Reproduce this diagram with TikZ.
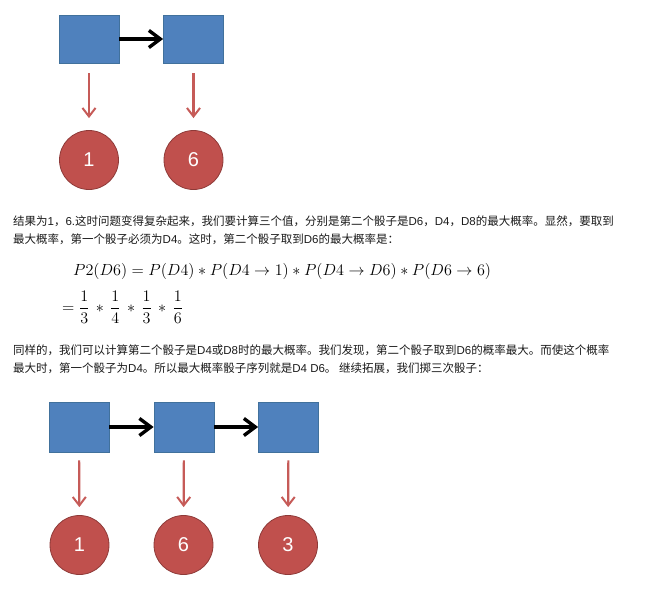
\documentclass[tikz,border=0pt]{standalone}
\usepackage[no-math]{fontspec}
\setmainfont{Liberation Sans}
\newfontfamily\cjk{Noto Sans CJK SC}
\usepackage{amsmath}
\usepackage{graphicx}
\usetikzlibrary{arrows.meta,positioning}
\definecolor{hmmBlue}{HTML}{4F81BD}
\definecolor{hmmBlueLine}{HTML}{41719C}
\definecolor{hmmRed}{HTML}{C0504D}
\definecolor{hmmRedLine}{HTML}{8E3A38}
\definecolor{hmmEmit}{HTML}{C65B58}
\definecolor{hmmInk}{HTML}{1A1A1A}
\newcommand\zh[1]{{\cjk #1}}
\newcommand\hmmeq[1]{\scalebox{1.12}{#1}}
\tikzset{
  hmm box/.style={draw=hmmBlueLine, fill=hmmBlue, line width=0.8pt,
    minimum width=60pt, minimum height=48pt, inner sep=0pt},
  hmm num/.style={circle, draw=hmmRedLine, fill=hmmRed, line width=0.8pt,
    minimum size=59pt, inner sep=0pt, text=white,
    font=\fontsize{20}{20}\selectfont},
  hmm trans/.style={-{Straight Barb[length=4mm,width=6mm,line width=3.4pt]},
    draw=black, line width=4pt},
  hmm emit/.style={-{Straight Barb[length=3mm,width=4.6mm,line width=2pt]},
    draw=hmmEmit, line width=2.2pt},
  hmm text/.style={anchor=base west, inner sep=0pt, text=hmmInk,
    font=\fontsize{11.5}{14}\selectfont},
  hmm math/.style={anchor=base west, inner sep=0pt, text=black,
    font=\fontsize{14.4}{17}\selectfont}
}
\begin{document}
\begin{tikzpicture}[x=1pt,y=-1pt]
\path[use as bounding box] (0,0) rectangle (646,592);
% two dice
\node[hmm box] (tbox1) at (89,39) {};
\node[hmm box] (tbox2) at (193.5,39) {};
\node[hmm num] (tnum1) at (89,160) {1};
\node[hmm num] (tnum2) at (193.5,160) {6};
\draw[hmm trans] (tbox1) -- (tbox2);
\draw[hmm emit, shorten <=10pt, shorten >=12pt] (tbox1) -- (tnum1);
\draw[hmm emit, shorten <=10pt, shorten >=12pt] (tbox2) -- (tnum2);
% text
\node[hmm text] (para1a) at (13,225.5) {\zh{结果为}1\zh{，}6.\zh{这时问题变得复杂起来，我们要计算三个值，分别是第二个骰子是}D6\zh{，}D4\zh{，}D8\zh{的最大概率。显然，要取到}};
\node[hmm text] (para1b) at (13,243.5) {\zh{最大概率，第一个骰子必须为}D4\zh{。这时，第二个骰子取到}D6\zh{的最大概率是：}};
\node[hmm math] (eq1) at (73,275.5) {\hmmeq{$P2(D6) = P(D4) * P(D4 \rightarrow 1) * P(D4 \rightarrow D6) * P(D6 \rightarrow 6)$}};
\node[hmm math] (eq2) at (62,312.5) {\hmmeq{$\displaystyle = \frac{1}{3} \mathbin{\,*\,} \frac{1}{4} \mathbin{\,*\,} \frac{1}{3} \mathbin{\,*\,} \frac{1}{6}$}};
\node[hmm text] (para2a) at (13,354.5) {\zh{同样的，我们可以计算第二个骰子是}D4\zh{或}D8\zh{时的最大概率。我们发现，第二个骰子取到}D6\zh{的概率最大。而使这个概率}};
\node[hmm text] (para2b) at (13,372.5) {\zh{最大时，第一个骰子为}D4\zh{。所以最大概率骰子序列就是}D4 D6\zh{。 继续拓展，我们掷三次骰子：}};
% three dice
\node[hmm box, minimum height=50pt] (bbox1) at (79,427) {};
\node[hmm box, minimum height=50pt] (bbox2) at (184,427) {};
\node[hmm box, minimum height=50pt] (bbox3) at (288.5,427) {};
\node[hmm num] (bnum1) at (79.5,545) {1};
\node[hmm num] (bnum2) at (183.5,545) {6};
\node[hmm num] (bnum3) at (288,545) {3};
\draw[hmm trans] (bbox1) -- (bbox2);
\draw[hmm trans] (bbox2) -- (bbox3);
\foreach \i in {1,2,3}
  \draw[hmm emit, shorten <=8pt, shorten >=8pt] (bbox\i) -- (bnum\i);
\end{tikzpicture}
\end{document}
